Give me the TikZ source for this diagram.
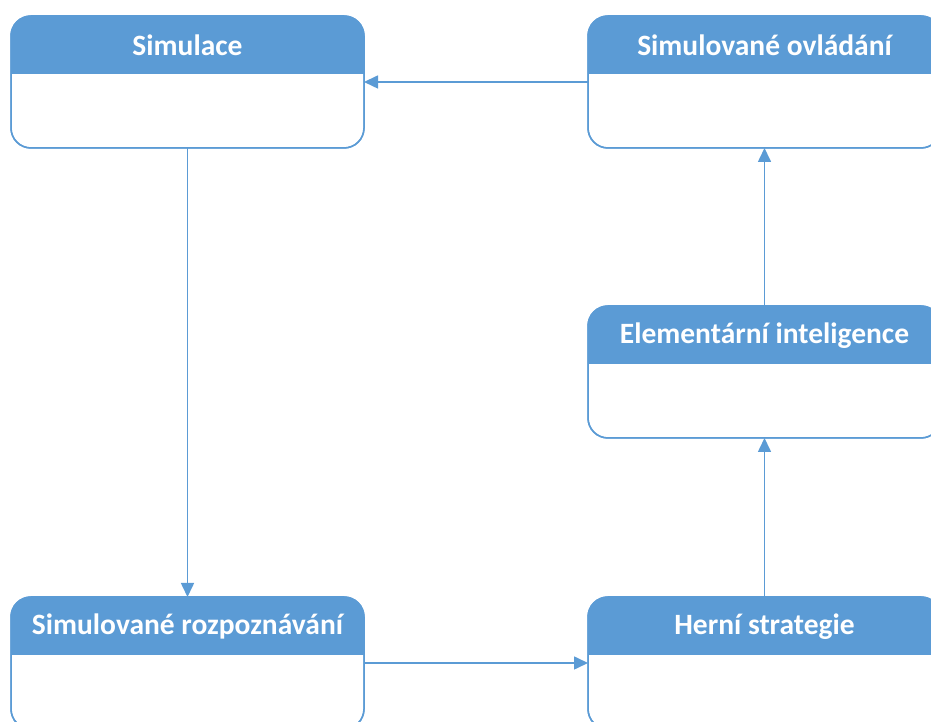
\documentclass[tikz,border=0pt]{standalone}
\usepackage{fontspec}
\setmainfont{Carlito}
\usetikzlibrary{arrows.meta,calc}
\definecolor{boxblue}{HTML}{5B9BD5}
\tikzset{
  x=1pt, y=1pt,
  statebox/.style={draw=boxblue, line width=1.5pt, fill=white, rounded corners=20pt,
    minimum width=353pt, minimum height=132pt, inner sep=0pt, outer sep=0pt},
  title/.style={text=white, font=\fontsize{29.5}{35}\selectfont\bfseries, inner sep=0pt},
  conn/.style={draw=boxblue, line width=1.6pt, -{Triangle[length=14pt,width=13pt]}},
}
% header band of a box: filled top strip with rounded upper corners
\newcommand{\boxhead}[2]{%
  \fill[boxblue] ($(#1.north west)+(0,-58)$)
    {[rounded corners=20pt] -- (#1.north west) -- (#1.north east)}
    -- ($(#1.north east)+(0,-58)$) -- cycle;
  \draw[boxblue, line width=1.5pt, rounded corners=20pt] (#1.south west) rectangle (#1.north east);
  \node[title] (#1T) at ($(#1.north)+(0,-29.5)$) {#2};}
\begin{document}
\begin{tikzpicture}
\clip (0,0) rectangle (931,722);
\node[statebox] (sim)  at (187.5,640) {};
\node[statebox] (ovl)  at (764.5,640) {};
\node[statebox] (elem) at (764.5,350) {};
\node[statebox] (rozp) at (187.5,59) {};
\node[statebox] (hern) at (764.5,59) {};
\boxhead{sim}{Simulace}
\boxhead{ovl}{Simulované ovládání}
\boxhead{elem}{Elementární inteligence}
\boxhead{rozp}{Simulované rozpoznávání}
\boxhead{hern}{Herní strategie}
\draw[conn] (sim.south) -- (rozp.north);
\draw[conn] (rozp.east) -- (hern.west);
\draw[conn] (hern.north) -- (elem.south);
\draw[conn] (elem.north) -- (ovl.south);
\draw[conn] (ovl.west) -- (sim.east);
\end{tikzpicture}
\end{document}
